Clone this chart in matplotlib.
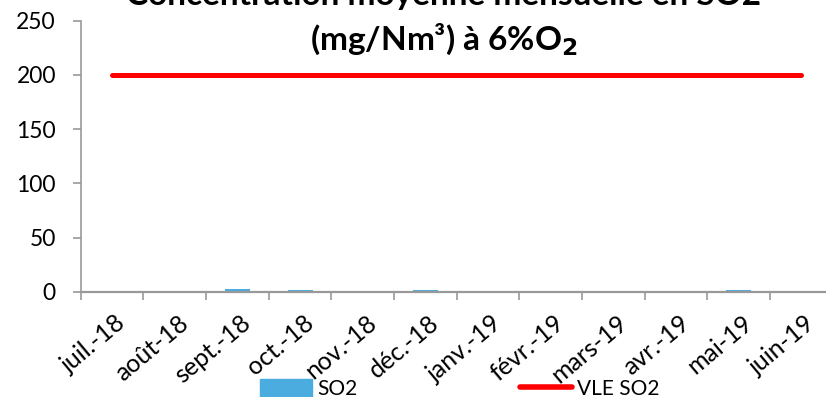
import matplotlib.pyplot as plt
import matplotlib.transforms as mtransforms
from matplotlib.patches import Patch
from matplotlib.lines import Line2D
import numpy as np

mois = ["juil.-18", "août-18", "sept.-18", "oct.-18", "nov.-18", "déc.-18",
        "janv.-19", "févr.-19", "mars-19", "avr.-19", "mai-19", "juin-19"]
so2 = [0, 0, 2.8, 2.0, 0.5, 2.0, 0.5, 0, 0, 0, 1.8, 0]
vle_so2 = [200] * 12

plt.rcParams['font.family'] = ['Lato', 'DejaVu Sans']

W, H = 826, 397
fig = plt.figure(figsize=(W / 100, H / 100), dpi=100)
ax = fig.add_axes([80.7 / W, 105.3 / H, 752 / W, 271 / H])

x = np.arange(len(mois))
ax.bar(x, so2, width=0.4, color='#4BACE0')
ax.plot(x, vle_so2, color='#FF0000', lw=3.6, solid_capstyle='round')

ax.set_xlim(-0.5, 11.5)
ax.set_ylim(0, 250)
ax.set_yticks([0, 50, 100, 150, 200, 250])
ax.tick_params(axis='y', labelsize=16.5, length=5.8, width=1.2,
               color='#999999', pad=12)

# tick marks on category boundaries, labels on category centres
ax.set_xticks(np.arange(-0.5, 12, 1))
ax.set_xticklabels([])
ax.tick_params(axis='x', which='major', length=5.8, color='#999999', width=1.2)
ax.set_xticks(x, minor=True)
ax.set_xticklabels(mois, minor=True, rotation=40, ha='right', va='top',
                   rotation_mode='anchor', fontsize=18)
ax.tick_params(axis='x', which='minor', length=0, pad=14)
shift = mtransforms.ScaledTranslation(3 / 100, 0, fig.dpi_scale_trans)
for lab in ax.get_xticklabels(minor=True):
    lab.set_transform(lab.get_transform() + shift)

for s in ['top', 'right']:
    ax.spines[s].set_visible(False)
ax.spines['left'].set_color('#999999')
ax.spines['left'].set_linewidth(1.2)
ax.spines['bottom'].set_color('#999999')
ax.spines['bottom'].set_linewidth(1.6)

# two-line title
fig.text(444 / W, 1 - 5 / H, "Concentration moyenne mensuelle en SO2",
         ha='center', va='baseline', fontsize=24, fontweight='bold')
fig.text(444 / W, 1 - 50 / H, "(mg/Nm³) à 6%O$_\\mathbf{2}$",
         ha='center', va='baseline', fontsize=24, fontweight='bold')

handles = [Patch(color='#4BACE0', label='SO2'),
           Line2D([], [], color='#FF0000', lw=4, solid_capstyle='round', label='VLE SO2')]
fig.legend(handles=handles, loc='center left', bbox_to_anchor=(260 / W, 8 / H),
           ncol=2, frameon=False, fontsize=15, handlelength=2.5, handleheight=0.95,
           columnspacing=7.8, handletextpad=0.25, borderpad=0, borderaxespad=0)

fig.savefig('out.png', dpi=100)
